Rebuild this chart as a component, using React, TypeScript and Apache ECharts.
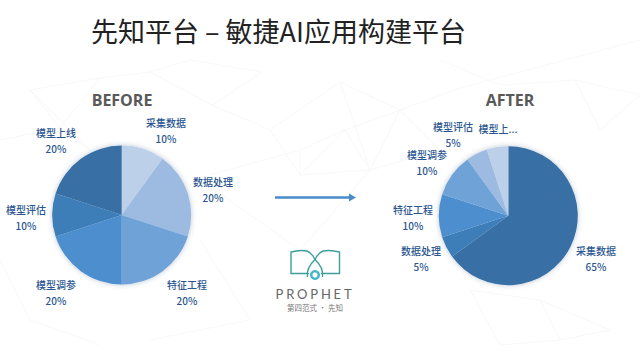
import React, { useEffect, useRef } from "react";
import * as echarts from "echarts";

const titleText = "先知平台 – 敏捷AI应用构建平台";
const categories = ["采集数据", "数据处理", "特征工程", "模型调参", "模型评估", "模型上线"];
const beforeValues = [10, 20, 20, 20, 10, 20];
const afterValues = [65, 5, 10, 10, 5, 5];
const beforeColors = ["#bdd0e9", "#9dbae0", "#6fa3d8", "#4d8fce", "#3d7db8", "#386fa5"];
const afterColors = ["#386fa5", "#3d7db8", "#4d8fce", "#6fa3d8", "#9dbae0", "#bdd0e9"];
const beforeLabelPos = [[166, 130], [213, 189], [187, 292], [56, 292], [26, 217], [56, 140]];
const afterLabelPos = [[596, 258], [421, 258], [413, 217], [427, 162], [453, 134], [498, 128]];
const afterLabelText = ["采集数据\n65%", "数据处理\n5%", "特征工程\n10%", "模型调参\n10%", "模型评估\n5%", "模型上..."];

const bgSegments = [
  [30, 90, 100, 78], [30, 90, 60, 128], [60, 128, 100, 78], [100, 78, 150, 72], [150, 72, 190, 60],
  [190, 60, 262, 72], [262, 72, 212, 105], [212, 105, 150, 72], [212, 105, 270, 130], [270, 130, 340, 82],
  [340, 82, 400, 110], [400, 110, 460, 88], [460, 88, 640, 40], [270, 130, 300, 175], [300, 175, 370, 170],
  [370, 170, 340, 82], [370, 170, 400, 110], [300, 175, 345, 130], [345, 130, 400, 110], [345, 130, 370, 170],
  [210, 175, 300, 150], [300, 150, 345, 130], [300, 150, 300, 175], [440, 150, 400, 110], [440, 150, 370, 170],
  [0, 140, 60, 128], [60, 128, 90, 150], [90, 150, 30, 90], [215, 190, 300, 250], [300, 250, 370, 170],
  [470, 290, 540, 300], [540, 300, 610, 330], [470, 290, 500, 345], [500, 345, 560, 340], [560, 340, 540, 300],
  [560, 340, 610, 330], [200, 240, 250, 320], [250, 320, 150, 340], [575, 80, 640, 95], [575, 80, 600, 130],
  [600, 130, 640, 95], [0, 260, 30, 320], [30, 320, 100, 345], [440, 60, 500, 85], [500, 85, 575, 80],
];

const logoPagesPath =
  "M309 273.5 L291 273.5 L291 252 Q300 249.5 307 251 Q312 253 315 259.5 Q318 253 323 251 Q330 249.5 339.5 252 L339.5 273.5 L321 273.5";
const logoDropPath = "M315 259.5 Q306 268 307.5 277 M315 259.5 Q324 268 322.5 277";
echarts.graphic.registerShape("logoPages", echarts.graphic.extendPath(logoPagesPath as any, {}) as any);
echarts.graphic.registerShape("logoDrop", echarts.graphic.extendPath(logoDropPath as any, {}) as any);

function pieSeries(values: number[], colors: string[], center: number[], positions: number[][], texts: string[]) {
  return {
    type: "pie",
    center,
    radius: [0, 69.5],
    startAngle: 90,
    clockwise: true,
    avoidLabelOverlap: false,
    z: 3,
    data: categories.map((name, i) => ({
      name,
      value: values[i],
      itemStyle: { color: colors[i] },
      label: { formatter: texts[i] },
    })),
    label: {
      show: true,
      position: "outside",
      color: "#2a5590",
      fontFamily: "Noto Sans CJK SC",
      fontSize: 10,
      fontWeight: 500,
      lineHeight: 16,
      align: "center",
    },
    labelLine: { show: false },
    labelLayout: (p: any) => ({
      x: positions[p.dataIndex][0],
      y: positions[p.dataIndex][1],
      align: "center",
      verticalAlign: "middle",
    }),
    silent: true,
    emphasis: { disabled: true },
  };
}

export default function App() {
  const ref = useRef<HTMLDivElement>(null);
  useEffect(() => {
    const chart = echarts.init(ref.current!, undefined, { renderer: "svg" });
    const bg = bgSegments.map(([x1, y1, x2, y2]) => ({
      type: "line",
      z: 0,
      silent: true,
      shape: { x1, y1, x2, y2 },
      style: { stroke: "#f5f5f5", lineWidth: 0.7 },
    }));
    const shadowDisc = (cx: number, cy: number) => ({
      type: "circle",
      z: 1,
      silent: true,
      shape: { cx, cy, r: 69.5 },
      style: { fill: "#dbe6f2", shadowBlur: 5, shadowColor: "rgba(60,90,130,0.35)" },
    });
    chart.setOption({
      animation: false,
      backgroundColor: "#ffffff",
      series: [
        pieSeries(beforeValues, beforeColors, [121.7, 215], beforeLabelPos, categories.map((c, i) => `${c}\n${beforeValues[i]}%`)),
        pieSeries(afterValues, afterColors, [508.3, 215.7], afterLabelPos, afterLabelText),
      ],
      graphic: [
        ...bg,
        shadowDisc(121.7, 215),
        shadowDisc(508.3, 215.7),
        {
          type: "text", z: 5, x: 278.5, y: 30,
          style: { text: titleText, fontFamily: "Noto Sans CJK SC", fontSize: 27, fill: "#222222", align: "center", verticalAlign: "middle" },
        },
        {
          type: "text", z: 5, x: 122, y: 100,
          style: { text: "BEFORE", fontFamily: "Open Sans", fontWeight: "bold", fontSize: 16, fill: "#595959", align: "center", verticalAlign: "middle" },
        },
        {
          type: "text", z: 5, x: 510, y: 100,
          style: { text: "AFTER", fontFamily: "Open Sans", fontWeight: "bold", fontSize: 16, fill: "#595959", align: "center", verticalAlign: "middle" },
        },
        { type: "line", z: 5, shape: { x1: 275, y1: 197.5, x2: 350, y2: 197.5 }, style: { stroke: "#4a8ccb", lineWidth: 2.5 } },
        { type: "polygon", z: 5, shape: { points: [[349, 193.5], [356, 197.5], [349, 201.5]] }, style: { fill: "#4a8ccb" } },
        { type: "logoPages", z: 5, style: { fill: "none", stroke: "#3c9f9c", lineWidth: 1.4 } },
        { type: "logoDrop", z: 5, style: { fill: "none", stroke: "#3c9f9c", lineWidth: 1.4 } },
        { type: "ring", z: 5, shape: { cx: 315, cy: 275, r: 5, r0: 2.6 }, style: { fill: "#45b5c8" } },
        {
          type: "text", z: 5, x: 315, y: 294,
          style: { text: "PROPHET", fontFamily: "Lato", fontSize: 13, fill: "#666666", align: "center", verticalAlign: "middle" },
        },
        {
          type: "text", z: 5, x: 315, y: 307,
          style: { text: "第四范式 · 先知", fontFamily: "Noto Sans CJK SC", fontSize: 7.5, fill: "#777777", align: "center", verticalAlign: "middle" },
        },
      ],
    });
    ref.current!.querySelectorAll("text").forEach((t) => {
      if (t.textContent === "PROPHET") (t as any).style.letterSpacing = "2.8px";
    });
    return () => chart.dispose();
  }, []);
  return <div ref={ref} style={{ position: "absolute", left: 0, top: 0, width: 640, height: 363 }} />;
}
